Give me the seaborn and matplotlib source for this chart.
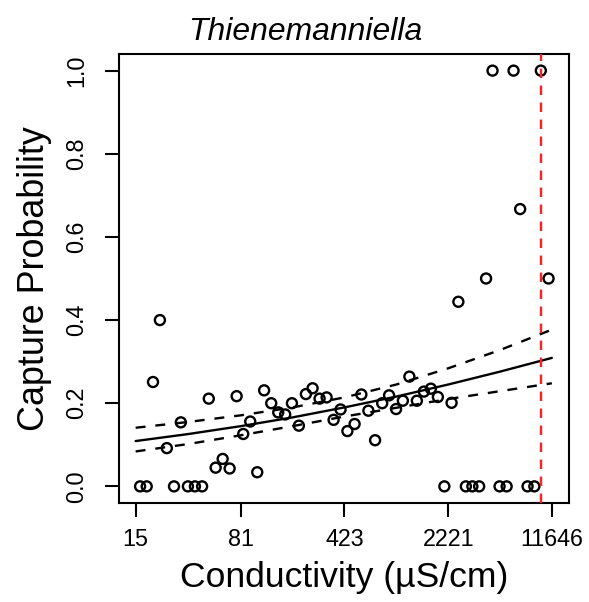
import numpy as np
import pandas as pd
import matplotlib
matplotlib.use("Agg")
import matplotlib.pyplot as plt
import seaborn as sns

# ---- data ----
conductivity = [16.1, 17.9, 27.7, 34.6, 38.7, 43.4, 2088, 2945, 3268, 3642, 5047, 5653, 7898, 8804,
                19.8, 22.1, 24.7, 30.9, 48.3, 53.9, 60.3, 67.4, 75.4, 83.8, 93.7, 104.8, 117.0,
                131.1, 146.6, 163.9, 182.5, 204.0, 228.2, 254.0, 284.0, 317.8, 355.3, 397.3,
                443.0, 497.1, 554.0, 619.7, 689.9, 772.7, 862.8, 964.9, 1075.7, 1193.6, 1345.5,
                1504.8, 1683.1, 1882.6, 2343.5, 2612.2, 4068, 4511, 6313, 7015, 9766, 11047]
probability = [0.0, 0.0, 0.0, 0.0, 0.0, 0.0, 0.0, 0.0, 0.0, 0.0, 0.0, 0.0, 0.0, 0.0,
               0.251, 0.400, 0.092, 0.154, 0.211, 0.045, 0.066, 0.043, 0.217, 0.126, 0.156, 0.034,
               0.231, 0.200, 0.178, 0.173, 0.200, 0.146, 0.222, 0.236, 0.211, 0.214, 0.160, 0.185,
               0.133, 0.150, 0.221, 0.182, 0.111, 0.200, 0.219, 0.186, 0.206, 0.264, 0.206,
               0.228, 0.235, 0.215, 0.201, 0.444, 0.500, 1.000, 1.000, 0.667, 1.000, 0.500]

fit_cond = [15, 35, 81, 185, 423, 969, 2221, 5086, 11646]
fit_mid = [0.109, 0.126, 0.145, 0.166, 0.190, 0.216, 0.245, 0.276, 0.309]
fit_upper = [0.141, 0.155, 0.171, 0.190, 0.214, 0.245, 0.284, 0.328, 0.377]
fit_lower = [0.084, 0.102, 0.123, 0.145, 0.168, 0.189, 0.210, 0.229, 0.248]

threshold = 9811
x_ticks = [15, 81, 423, 2221, 11646]
x_tick_labels = ["15", "81", "423", "2221", "11646"]
y_ticks = [0.0, 0.2, 0.4, 0.6, 0.8, 1.0]
y_tick_labels = ["0.0", "0.2", "0.4", "0.6", "0.8", "1.0"]

pts = pd.DataFrame({"cond": conductivity, "prob": probability})
fit = pd.DataFrame({"cond": fit_cond, "mid": fit_mid, "upper": fit_upper, "lower": fit_lower})

sns.set_theme(style="white")
plt.rcParams["font.family"] = ["Liberation Sans", "DejaVu Sans"]

W, H = 589, 602
fig = plt.figure(figsize=(W / 100, H / 100), dpi=100)
AX_L, AX_R, AX_T, AX_B = 119, 568.5, 54, 503
ax = fig.add_axes([AX_L / W, 1 - AX_B / H, (AX_R - AX_L) / W, (AX_B - AX_T) / H])
ax.set_xscale("log")

sns.scatterplot(data=pts, x="cond", y="prob", ax=ax, marker="o", s=52,
                facecolor="none", edgecolor="black", linewidth=1.7, zorder=3)
sns.lineplot(data=fit, x="cond", y="mid", ax=ax, color="black", linewidth=1.7, zorder=2)
sns.lineplot(data=fit, x="cond", y="upper", ax=ax, color="black", linewidth=1.7,
             linestyle=(0, (4.2, 4.2)), zorder=2)
sns.lineplot(data=fit, x="cond", y="lower", ax=ax, color="black", linewidth=1.7,
             linestyle=(0, (4.2, 4.2)), zorder=2)
ax.axvline(threshold, color="#FF2020", linewidth=1.7, linestyle=(0, (4, 3.2)), zorder=4)

lo, hi = np.log10(15), np.log10(11646)
r = hi - lo
ax.set_xlim(10 ** (lo - 0.04 * r), 10 ** (hi + 0.04 * r))
ax.set_ylim(-0.04, 1.04)

ax.set_xticks(x_ticks)
ax.set_xticklabels(x_tick_labels)
ax.xaxis.set_minor_locator(matplotlib.ticker.NullLocator())
ax.set_yticks(y_ticks)
ax.set_yticklabels(y_tick_labels, rotation=90)

TICK_LEN_PX = 14
ax.tick_params(axis="both", which="major", direction="out", length=TICK_LEN_PX * 0.72, width=1.5,
               color="black", labelsize=16.5, labelcolor="black", bottom=True, left=True)
# label centres: x tick labels at y=540, y tick labels at x=77
ax.tick_params(axis="x", pad=(540 - AX_B - TICK_LEN_PX) * 0.72)
ax.tick_params(axis="y", pad=(AX_L - TICK_LEN_PX - 77) * 0.72)
for t in ax.get_xticklabels():
    t.set_va("center")
for t in ax.get_yticklabels():
    t.set_va("center")
    t.set_ha("center")

for s in ax.spines.values():
    s.set_visible(True)
    s.set_color("black")
    s.set_linewidth(1.5)

xl = ax.set_xlabel("Conductivity (µS/cm)", fontsize=21, color="black")
yl = ax.set_ylabel("Capture Probability", fontsize=21, color="black")
xl.set_va("center")
yl.set_va("center")
ax.xaxis.set_label_coords(0.5, (AX_B - 578) / (AX_B - AX_T))
ax.yaxis.set_label_coords((35 - AX_L) / (AX_R - AX_L), 0.5)
title = fig.text(305 / W, 1 - 32 / H, "Thienemanniella", fontsize=21, style="italic",
                 ha="center", va="center", color="black")

# scale font sizes so text extents match the reference
fig.canvas.draw()
rend = fig.canvas.get_renderer()
def scaled(txt, target, dim):
    bb = txt.get_window_extent(rend)
    cur = bb.width if dim == "w" else bb.height
    return txt.get_fontsize() * target / cur

title.set_fontsize(scaled(title, 234, "w"))
xl.set_fontsize(scaled(xl, 328, "w"))
yl.set_fontsize(scaled(yl, 305, "h"))
lab = [t for t in ax.get_xticklabels() if t.get_text() == "11646"][0]
ax.tick_params(axis="both", labelsize=scaled(lab, 63, "w"))

fig.savefig("out.png", dpi=100, facecolor="white")
